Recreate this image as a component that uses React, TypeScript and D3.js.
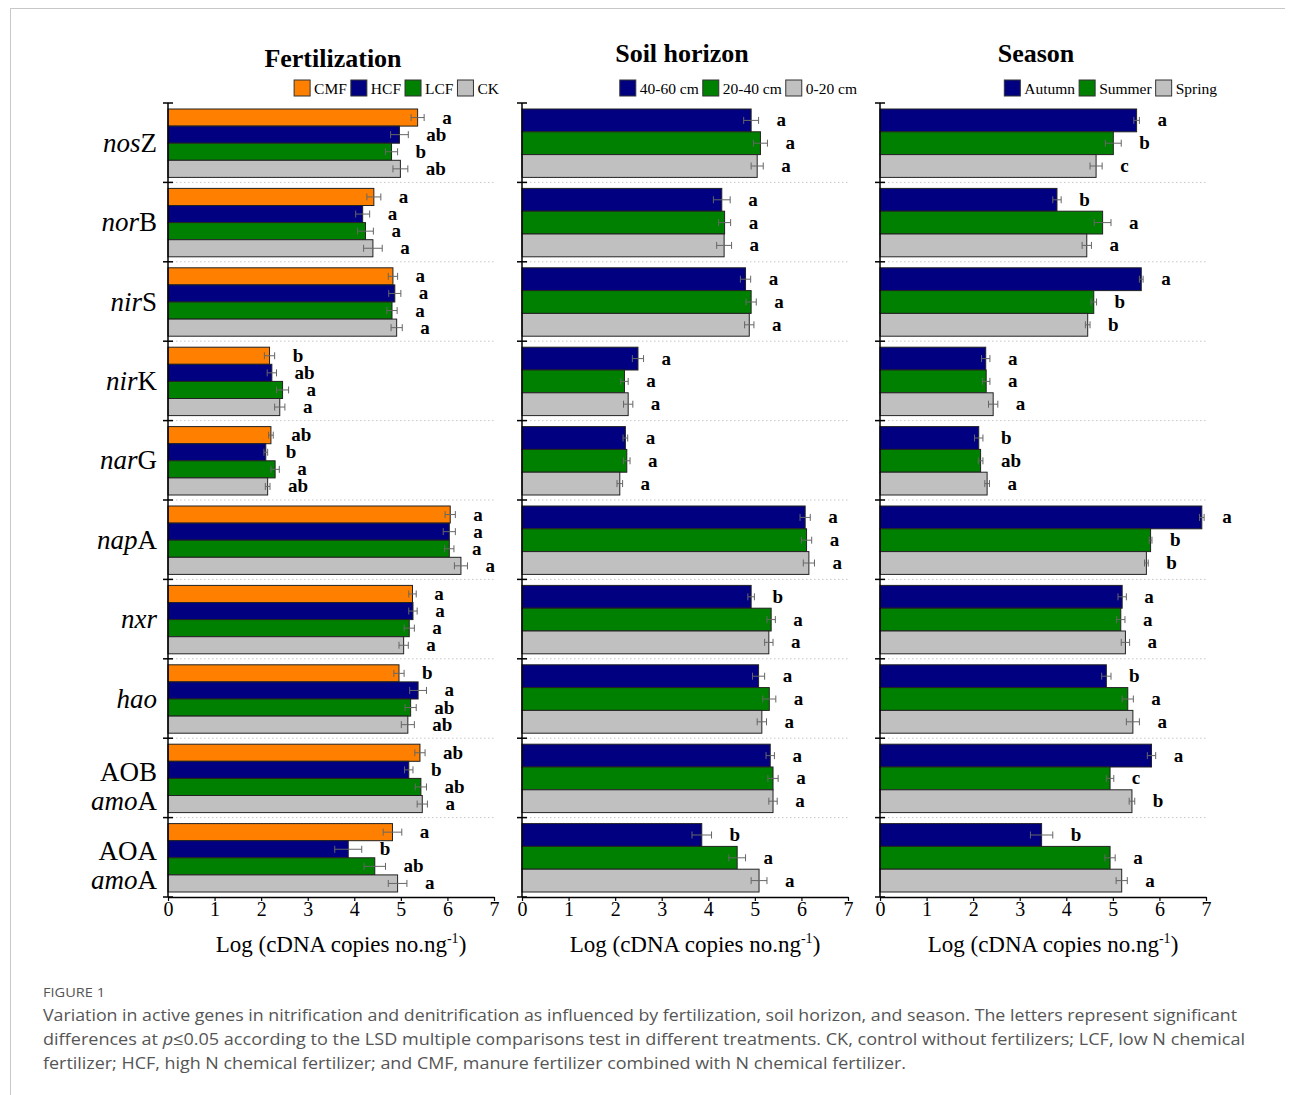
import React, { useEffect, useRef } from "react";
import * as d3 from "d3";

// ---------- data ----------
const genes = ["nosZ", "norB", "nirS", "nirK", "narG", "napA", "nxr", "hao", "AOB amoA", "AOA amoA"];
// label parts: [text, italic]
const geneLabelLines: [string, boolean][][][] = [
  [[["nos", true], ["Z", false]]],
  [[["nor", true], ["B", false]]],
  [[["nir", true], ["S", false]]],
  [[["nir", true], ["K", false]]],
  [[["nar", true], ["G", false]]],
  [[["nap", true], ["A", false]]],
  [[["nxr", true]]],
  [[["hao", true]]],
  [[["AOB", false]], [["amo", true], ["A", false]]],
  [[["AOA", false]], [["amo", true], ["A", false]]],
];

const xTicks = [0, 1, 2, 3, 4, 5, 6, 7];

// Fertilization
const fertNames = ["CMF", "HCF", "LCF", "CK"];
const fertCMF = [5.36, 4.42, 4.83, 2.18, 2.21, 6.06, 5.25, 4.96, 5.41, 4.82];
const fertHCF = [4.97, 4.18, 4.87, 2.23, 2.10, 6.04, 5.26, 5.37, 5.17, 3.87];
const fertLCF = [4.80, 4.24, 4.81, 2.46, 2.30, 6.04, 5.18, 5.21, 5.43, 4.44];
const fertCK = [4.99, 4.40, 4.91, 2.40, 2.14, 6.29, 5.06, 5.15, 5.46, 4.93];
const fertCMFErr = [0.14, 0.15, 0.10, 0.11, 0.05, 0.11, 0.08, 0.11, 0.11, 0.20];
const fertHCFErr = [0.19, 0.15, 0.13, 0.10, 0.04, 0.13, 0.09, 0.18, 0.09, 0.29];
const fertLCFErr = [0.13, 0.17, 0.11, 0.13, 0.09, 0.10, 0.11, 0.12, 0.12, 0.23];
const fertCKErr = [0.16, 0.20, 0.12, 0.11, 0.05, 0.14, 0.10, 0.14, 0.11, 0.20];
const fertCMFSig = ["a", "a", "a", "b", "ab", "a", "a", "b", "ab", "a"];
const fertHCFSig = ["ab", "a", "a", "ab", "b", "a", "a", "a", "b", "b"];
const fertLCFSig = ["b", "a", "a", "a", "a", "a", "a", "ab", "ab", "ab"];
const fertCKSig = ["ab", "a", "a", "a", "ab", "a", "a", "ab", "a", "a"];

// Soil horizon
const soilNames = ["40-60 cm", "20-40 cm", "0-20 cm"];
const soil4060 = [4.92, 4.29, 4.80, 2.49, 2.22, 6.08, 4.92, 5.08, 5.33, 3.86];
const soil2040 = [5.12, 4.35, 4.92, 2.20, 2.25, 6.11, 5.35, 5.31, 5.39, 4.62];
const soil020 = [5.05, 4.34, 4.88, 2.28, 2.10, 6.16, 5.30, 5.15, 5.39, 5.09];
const soil4060Err = [0.16, 0.18, 0.11, 0.12, 0.05, 0.11, 0.07, 0.13, 0.09, 0.21];
const soil2040Err = [0.15, 0.13, 0.11, 0.08, 0.07, 0.11, 0.09, 0.14, 0.11, 0.18];
const soil020Err = [0.13, 0.16, 0.10, 0.10, 0.06, 0.12, 0.09, 0.10, 0.09, 0.17];
const soil4060Sig = ["a", "a", "a", "a", "a", "a", "b", "a", "a", "b"];
const soil2040Sig = ["a", "a", "a", "a", "a", "a", "a", "a", "a", "a"];
const soil020Sig = ["a", "a", "a", "a", "a", "a", "a", "a", "a", "a"];

// Season
const seasonNames = ["Autumn", "Summer", "Spring"];
const autumn = [5.51, 3.80, 5.61, 2.27, 2.12, 6.91, 5.20, 4.86, 5.83, 3.47];
const summer = [5.01, 4.78, 4.59, 2.28, 2.16, 5.81, 5.17, 5.32, 4.94, 4.94];
const spring = [4.64, 4.44, 4.46, 2.43, 2.30, 5.72, 5.27, 5.43, 5.41, 5.19];
const autumnErr = [0.06, 0.09, 0.04, 0.09, 0.09, 0.05, 0.09, 0.10, 0.09, 0.24];
const summerErr = [0.17, 0.18, 0.06, 0.08, 0.05, 0.03, 0.09, 0.12, 0.08, 0.11];
const springErr = [0.13, 0.10, 0.05, 0.10, 0.05, 0.04, 0.09, 0.14, 0.06, 0.12];
const autumnSig = ["a", "b", "a", "a", "b", "a", "a", "b", "a", "b"];
const summerSig = ["b", "a", "b", "a", "ab", "b", "a", "a", "c", "a"];
const springSig = ["c", "a", "b", "a", "a", "b", "a", "a", "b", "a"];

const captionHead = "FIGURE 1";
const captionLine1 = "Variation in active genes in nitrification and denitrification as influenced by fertilization, soil horizon, and season. The letters represent significant";
const captionLine2a = "differences at ";
const captionLine2b = "p";
const captionLine2c = "≤0.05 according to the LSD multiple comparisons test in different treatments. CK, control without fertilizers; LCF, low N chemical";
const captionLine3 = "fertilizer; HCF, high N chemical fertilizer; and CMF, manure fertilizer combined with N chemical fertilizer.";

// ---------- styles ----------
const ORANGE = "#FF8000";
const NAVY = "#000080";
const GREEN = "#008000";
const GRAY = "#C0C0C0";
const SERIF = "'Liberation Serif', 'Times New Roman', serif";

type Series = { name: string; color: string; values: number[]; errors: number[]; sig: string[] };
type Panel = { title: string; titleX: number; titleY: number; x0: number; legendRight: number; series: Series[] };

const panels: Panel[] = [
  {
    title: "Fertilization", titleX: 333, titleY: 67, x0: 168, legendRight: 499,
    series: [
      { name: fertNames[0], color: ORANGE, values: fertCMF, errors: fertCMFErr, sig: fertCMFSig },
      { name: fertNames[1], color: NAVY, values: fertHCF, errors: fertHCFErr, sig: fertHCFSig },
      { name: fertNames[2], color: GREEN, values: fertLCF, errors: fertLCFErr, sig: fertLCFSig },
      { name: fertNames[3], color: GRAY, values: fertCK, errors: fertCKErr, sig: fertCKSig },
    ],
  },
  {
    title: "Soil horizon", titleX: 682, titleY: 62, x0: 522, legendRight: 857,
    series: [
      { name: soilNames[0], color: NAVY, values: soil4060, errors: soil4060Err, sig: soil4060Sig },
      { name: soilNames[1], color: GREEN, values: soil2040, errors: soil2040Err, sig: soil2040Sig },
      { name: soilNames[2], color: GRAY, values: soil020, errors: soil020Err, sig: soil020Sig },
    ],
  },
  {
    title: "Season", titleX: 1036, titleY: 62, x0: 880, legendRight: 1217,
    series: [
      { name: seasonNames[0], color: NAVY, values: autumn, errors: autumnErr, sig: autumnSig },
      { name: seasonNames[1], color: GREEN, values: summer, errors: summerErr, sig: summerSig },
      { name: seasonNames[2], color: GRAY, values: spring, errors: springErr, sig: springSig },
    ],
  },
];

const TOP = 103;
const BOTTOM = 897;
const PW = 326;

export default function App() {
  const ref = useRef<SVGSVGElement | null>(null);

  useEffect(() => {
    document.body.style.margin = "0";
    const svg = d3.select(ref.current);
    svg.selectAll("*").remove();

    svg.append("rect").attr("x", 0).attr("y", 0).attr("width", 1293).attr("height", 1095).attr("fill", "#fff");
    // frame lines
    svg.append("line").attr("x1", 10).attr("x2", 1285).attr("y1", 8.5).attr("y2", 8.5).attr("stroke", "#c8c8c8").attr("stroke-width", 1);
    svg.append("line").attr("x1", 10.5).attr("x2", 10.5).attr("y1", 8).attr("y2", 1095).attr("stroke", "#c8c8c8").attr("stroke-width", 1);

    const yGroup = d3.scaleBand<string>().domain(genes).range([TOP, BOTTOM]).paddingInner(0).paddingOuter(0);
    const gh = yGroup.bandwidth();

    // gene labels
    genes.forEach((g, i) => {
      const c = (yGroup(g) as number) + gh / 2;
      const lines = geneLabelLines[i];
      const baselines = lines.length === 1 ? [c + 9] : [c + 3, c + 32];
      lines.forEach((parts, li) => {
        const t = svg.append("text").attr("x", 157).attr("y", baselines[li]).attr("text-anchor", "end")
          .attr("font-family", SERIF).attr("font-size", 27).attr("fill", "#000");
        parts.forEach(([s, it]) => {
          t.append("tspan").attr("font-style", it ? "italic" : "normal").text(s);
        });
      });
    });

    panels.forEach((p) => {
      const x = d3.scaleLinear().domain([0, 7]).range([p.x0, p.x0 + PW]);
      const names = p.series.map((s) => s.name);
      const yInner = d3.scaleBand<string>().domain(names).range([6, gh - 5]).padding(0);
      const bh = yInner.bandwidth();
      const g = svg.append("g");

      // title
      g.append("text").attr("x", p.titleX).attr("y", p.titleY).attr("text-anchor", "middle")
        .attr("font-family", SERIF).attr("font-weight", "bold").attr("font-size", 26).text(p.title);

      // legend (measured, right aligned)
      const leg = g.append("g");
      let cx = 0;
      p.series.forEach((s, i) => {
        const sw = cx;
        const t = leg.append("text").attr("y", 93.5).attr("font-family", SERIF).attr("font-size", 15.5).text(s.name);
        const w = (t.node() as SVGTextElement).getComputedTextLength();
        leg.append("rect").attr("x", sw).attr("y", 80).attr("width", 16).attr("height", 16)
          .attr("fill", s.color).attr("stroke", "#333").attr("stroke-width", 1);
        t.attr("x", sw + 20);
        cx = sw + 20 + w + (i < p.series.length - 1 ? 4 : 0);
      });
      leg.attr("transform", `translate(${p.legendRight - cx},0)`);

      // dotted grid at group boundaries
      genes.forEach((gn, i) => {
        if (i === 0) return;
        const yy = yGroup(gn) as number;
        g.append("line").attr("x1", x(0)).attr("x2", x(7)).attr("y1", yy).attr("y2", yy)
          .attr("stroke", "#c8c8c8").attr("stroke-width", 1).attr("stroke-dasharray", "1.5,2.5");
      });

      // bars
      p.series.forEach((s) => {
        genes.forEach((gn, gi) => {
          const v = s.values[gi];
          const e = s.errors[gi];
          const y0 = (yGroup(gn) as number) + (yInner(s.name) as number);
          const cy = y0 + bh / 2;
          g.append("rect").attr("x", x(0)).attr("y", y0).attr("width", x(v) - x(0)).attr("height", bh)
            .attr("fill", s.color).attr("stroke", "#222").attr("stroke-width", 1);
          const ec = "#666";
          g.append("line").attr("x1", x(v - e)).attr("x2", x(v + e)).attr("y1", cy).attr("y2", cy).attr("stroke", ec).attr("stroke-width", 1);
          [v - e, v + e].forEach((xv) => {
            g.append("line").attr("x1", x(xv)).attr("x2", x(xv)).attr("y1", cy - 3.5).attr("y2", cy + 3.5).attr("stroke", ec).attr("stroke-width", 1);
          });
          g.append("text").attr("x", x(v + e) + 18).attr("y", cy + 6).attr("font-family", SERIF)
            .attr("font-weight", "bold").attr("font-size", 19).text(s.sig[gi]);
        });
      });

      // y axis
      g.append("line").attr("x1", x(0)).attr("x2", x(0)).attr("y1", TOP).attr("y2", BOTTOM).attr("stroke", "#000").attr("stroke-width", 1.5);
      const bounds = genes.map((gn) => yGroup(gn) as number).concat([BOTTOM]);
      bounds.forEach((yy) => {
        g.append("line").attr("x1", x(0) - 5).attr("x2", x(0) + 5).attr("y1", yy).attr("y2", yy).attr("stroke", "#000").attr("stroke-width", 1.5);
      });

      // x axis
      const ax = g.append("g").attr("transform", `translate(0,${BOTTOM})`)
        .call(d3.axisBottom(x).tickValues(xTicks).tickFormat(d3.format("d")).tickSize(4).tickSizeOuter(0).tickPadding(1));
      ax.select(".domain").attr("stroke", "#000").attr("stroke-width", 1.5);
      ax.selectAll(".tick line").attr("stroke", "#000").attr("stroke-width", 1.2);
      ax.selectAll(".tick text").attr("font-family", SERIF).attr("font-size", 20).attr("fill", "#000");

      // axis title
      const at = g.append("text").attr("x", p.x0 + 173).attr("y", 952).attr("text-anchor", "middle")
        .attr("font-family", SERIF).attr("font-size", 23).attr("fill", "#000");
      at.append("tspan").text("Log (cDNA copies no.ng");
      at.append("tspan").attr("font-size", 14).attr("dy", -9).text("-1");
      at.append("tspan").attr("dy", 9).text(")");
    });

    // caption
    const CAP = "'Open Sans', 'Noto Sans', sans-serif";
    svg.append("text").attr("x", 43).attr("y", 997).attr("font-family", CAP).attr("font-size", 13)
      .attr("fill", "#555").attr("textLength", 62).attr("lengthAdjust", "spacingAndGlyphs").text(captionHead);
    svg.append("text").attr("x", 43).attr("y", 1021).attr("font-family", CAP).attr("font-size", 17)
      .attr("fill", "#555").attr("textLength", 1194).attr("lengthAdjust", "spacingAndGlyphs").text(captionLine1);
    const l2 = svg.append("text").attr("x", 43).attr("y", 1045).attr("font-family", CAP).attr("font-size", 17)
      .attr("fill", "#555").attr("textLength", 1202).attr("lengthAdjust", "spacingAndGlyphs");
    l2.append("tspan").text(captionLine2a);
    l2.append("tspan").attr("font-style", "italic").text(captionLine2b);
    l2.append("tspan").text(captionLine2c);
    svg.append("text").attr("x", 43).attr("y", 1069).attr("font-family", CAP).attr("font-size", 17)
      .attr("fill", "#555").attr("textLength", 863).attr("lengthAdjust", "spacingAndGlyphs").text(captionLine3);
  }, []);

  return <svg ref={ref} width={1293} height={1095} style={{ display: "block" }} />;
}
